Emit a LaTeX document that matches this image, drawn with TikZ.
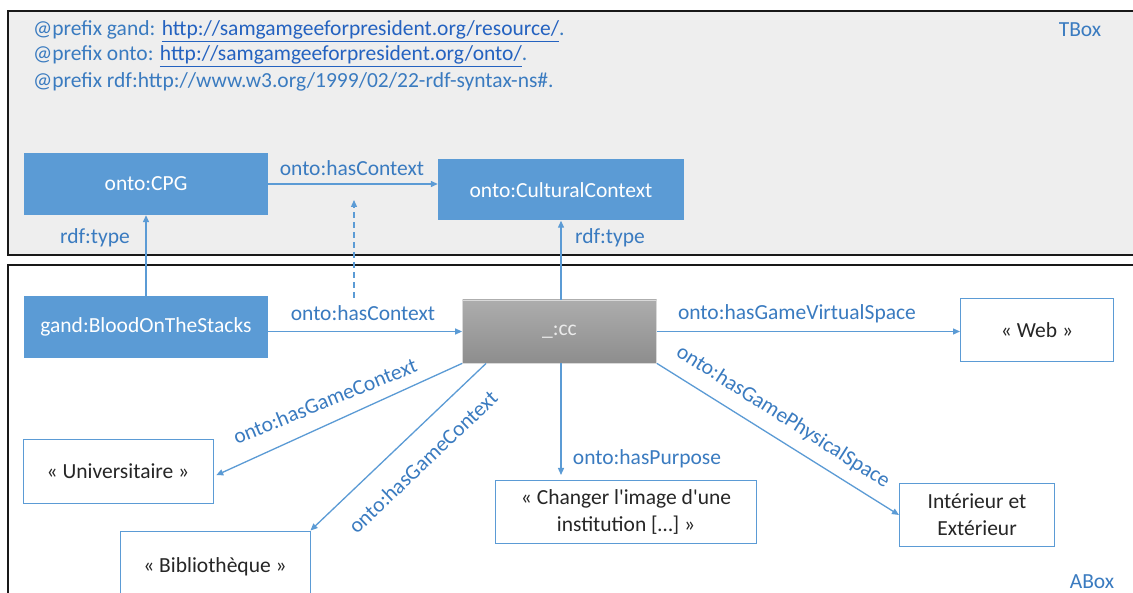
\documentclass[tikz,border=0pt]{standalone}
\usepackage{fontspec}
\setmainfont{Carlito}
\newfontfamily\carl{Carlito}
\usetikzlibrary{arrows.meta,calc}
\definecolor{bfill}{HTML}{5B9BD5}
\definecolor{btext}{HTML}{3A7BC0}
\definecolor{ulink}{HTML}{2462C0}
\definecolor{tbg}{HTML}{EEEEEE}
\definecolor{ccTop}{HTML}{ADADAD}
\definecolor{ccBot}{HTML}{8D8D8D}
\begin{document}
\begin{tikzpicture}[x=1pt,y=-1pt,
  lbl/.style={text=btext,font=\carl\fontsize{21.5}{25}\selectfont,inner sep=0pt},
  cls/.style={fill=bfill,text=white,font=\carl\fontsize{21.5}{25}\selectfont,inner sep=0pt},
  lit/.style={draw=bfill,line width=1pt,fill=white,text=black!85,font=\carl\fontsize{21.5}{27}\selectfont,inner sep=0pt,align=center},
  arr/.style={draw=bfill,line width=1.3pt,-{Triangle[length=7pt,width=6pt]}},
  frame/.style={draw=black!90,line width=2.2pt}
]
\useasboundingbox (0,0) rectangle (1133,593);
\fill[white] (0,0) rectangle (1133,593);
\begin{scope}
\clip (0,0) rectangle (1133,593);
\draw[frame,fill=tbg] (8,11) rectangle (1150,255);
\draw[frame,fill=white] (8,265) rectangle (1150,610);

% prefixes
\node[lbl,anchor=west] (p1) at (33,31) {@prefix gand: {\color{ulink}\underline{http://samgamgeeforpresident.org/resource/}}.};
\node[lbl,anchor=west] (p2) at (33,56) {@prefix onto: {\color{ulink}\underline{http://samgamgeeforpresident.org/onto/}}.};
\node[lbl,anchor=west] (p3) at (33,82) {@prefix rdf:http://www.w3.org/1999/02/22-rdf-syntax-ns\#.};
\node[lbl] (tbox) at (1080,30) {TBox};
\node[lbl] (abox) at (1092,582) {ABox};

% nodes
\node[cls,minimum width=244pt,minimum height=62pt] (cpg) at (146,184) {onto:CPG};
\node[cls,minimum width=246pt,minimum height=61pt] (cult) at (561,190) {onto:CulturalContext};
\node[cls,minimum width=244pt,minimum height=62pt] (blood) at (146,327) {gand:BloodOnTheStacks};
\node[top color=ccTop,bottom color=ccBot,draw=gray!30,line width=0.8pt,text=white!92!black,font=\carl\fontsize{21.5}{25}\selectfont,minimum width=194pt,minimum height=63pt,inner sep=0pt] (cc) at (559.5,331.5) {\_:cc};
\node[lit,minimum width=153pt,minimum height=63pt] (web) at (1037,330) {« Web »};
\node[lit,minimum width=155pt,minimum height=63pt] (inter) at (977,515) {Intérieur et\\Extérieur};
\node[lit,minimum width=261pt,minimum height=63pt] (chg) at (626,512) {« Changer l'image d'une\\institution […] »};
\node[lit,minimum width=190pt,minimum height=63pt] (univ) at (118,471.5) {« Universitaire »};
\node[lit,minimum width=190pt,minimum height=72pt] (bib) at (215,567) {« Bibliothèque »};

% connectors
\draw[arr] (cpg.east) -- (cpg.east -| cult.west);
\coordinate (d1) at (354,298);
\coordinate (d2) at (354,200);
\draw[arr,dash pattern=on 6pt off 4pt] (d1) -- (d2);
\draw[arr] (blood.north) -- (cpg.south);
\draw[arr] (cult.south |- cc.north) -- (cult.south);
\draw[arr] (blood.east |- cc.west) -- (cc.west);
\draw[arr] (cc.east) -- (cc.east -| web.west);
\draw[arr] (cult.south |- cc.south) -- ([yshift=5pt]cult.south |- chg.north);
\draw[arr,shorten >=3pt] (cc.south west) -- ([yshift=-5pt]univ.east);
\draw[arr] ([xshift=24pt]cc.south west) -- (bib.north east);
\draw[arr] (cc.south east) -- (inter.west);

% labels
\node[lbl] (l1) at (352,168) {onto:hasContext};
\node[lbl] (l2) at (95,238) {rdf:type};
\node[lbl] (l3) at (610,238) {rdf:type};
\node[lbl] (l4) at (363,313) {onto:hasContext};
\node[lbl] (l5) at (797,314) {onto:hasGameVirtualSpace};
\node[lbl] (l6) at (647,459) {onto:hasPurpose};
\node[lbl,rotate=22] (l7) at (325,401) {onto:hasGameContext};
\node[lbl,rotate=43.5] (l8) at (423,462) {onto:hasGameContext};
\node[lbl,rotate=-32.5] (l9) at (783,417) {onto:hasGamePhysicalSpace};
\end{scope}
\end{tikzpicture}
\end{document}
